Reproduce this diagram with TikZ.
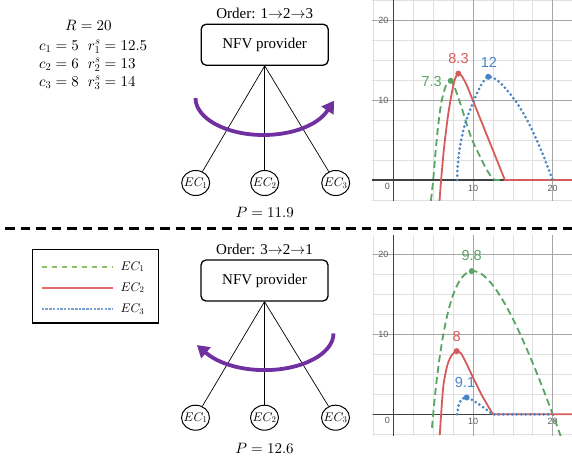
\documentclass[tikz,border=0pt]{standalone}
\usepackage{fontspec}
\setmainfont{Liberation Serif}
\newfontfamily\graphfont{Liberation Sans}
\DeclareFontShape{OML}{cmm}{m}{it}{<->cmmi10}{\skewchar\font'177}
\DeclareFontShape{OMS}{cmsy}{m}{n}{<->cmsy10}{\skewchar\font'60}
\DeclareFontShape{OT1}{cmr}{m}{n}{<->cmr10}{}
\DeclareFontShape{OMX}{cmex}{m}{n}{<->cmex10}{}
\usetikzlibrary{arrows.meta,shapes.geometric}
\definecolor{turnpurple}{RGB}{112,48,160}
\definecolor{curvegreen}{RGB}{88,164,98}
\definecolor{curvered}{RGB}{212,92,92}
\definecolor{curveblue}{RGB}{72,132,200}
\definecolor{keygreen}{RGB}{140,192,100}
\definecolor{keyred}{RGB}{222,110,110}
\definecolor{keyblue}{RGB}{120,160,210}

\begin{document}
\begin{tikzpicture}[x=1pt,y=-1pt,font=\fontsize{15}{18}\selectfont]
	\tikzstyle{provider} = [draw, line width=1.3pt, rounded corners=5pt, minimum width=127pt, minimum height=41pt]
	\tikzstyle{ec} = [draw, ellipse, line width=1pt, minimum width=28pt, minimum height=25pt, inner sep=-4pt, font=\fontsize{12.5}{12.5}\selectfont]
	\tikzstyle{link} = [line width=0.7pt]
	\tikzstyle{turn} = [line width=3.8pt, turnpurple, -{Triangle[length=12pt,width=14pt]}]
	\tikzstyle{minorgrid} = [black!12, line width=0.7pt]
	\tikzstyle{majorgrid} = [black!35, line width=0.9pt]
	\tikzstyle{axis} = [black!75, line width=1.2pt]
	\tikzstyle{tick} = [font=\graphfont\fontsize{9}{9}\selectfont, black!65, inner sep=1pt]
	\tikzstyle{peak} = [font=\graphfont\fontsize{14.5}{14.5}\selectfont, inner sep=0pt]
	\tikzstyle{econe} = [curvegreen, line width=1.8pt, dash pattern=on 7pt off 4pt]
	\tikzstyle{ectwo} = [curvered, line width=1.8pt]
	\tikzstyle{ecthree} = [curveblue, line width=3pt, line cap=round, dash pattern=on 0pt off 4.5pt]
	\tikzstyle{keylabel} = [anchor=west, inner sep=0pt, text=black, font=\fontsize{12.5}{12.5}\selectfont]

	\useasboundingbox (0,0) rectangle (572,463);

	% parameters
	\node (rval) at (88.5,25.7) {$R = 20$};
	\node[anchor=west, inner sep=0pt] (params) at (39,64.5) {\begin{tabular}{@{}l@{\hspace{9pt}}l@{}}
		$c_1 = 5$ & $r_1^s = 12.5$\\
		$c_2 = 6$ & $r_2^s = 13$\\
		$c_3 = 8$ & $r_3^s = 14$
	\end{tabular}};

	% order 1 -> 2 -> 3
	\node[provider] (nfv1) at (264.7,44.7) {NFV provider};
	\node[above of=nfv1, node distance=31pt] (order1) {Order: 1$\rightarrow$2$\rightarrow$3};
	\node[ec, below of=nfv1, node distance=138.3pt] (ec2top) {$EC_2$};
	\node[ec, left of=ec2top, node distance=69pt] (ec1top) {$EC_1$};
	\node[ec, right of=ec2top, node distance=71pt] (ec3top) {$EC_3$};
	\node[below of=ec2top, node distance=29pt] (p1) {$P = 11.9$};
	\draw[link] (nfv1.south) -- (ec1top);
	\draw[link] (nfv1.south) -- (ec2top);
	\draw[link] (nfv1.south) -- (ec3top);
	\draw[turn] (195.5,98) arc[start angle=180, end angle=20, x radius=68, y radius=37] -- ++(6.7,-10);

	\draw[line width=3pt, dash pattern=on 9.5pt off 6pt] (5,228) -- (572,228);

	% legend
	\draw[line width=1.2pt] (32.3,249.3) rectangle (158.3,323);
	\draw[keygreen, line width=2pt, dash pattern=on 5.5pt off 4.5pt] (41.7,266.7) -- (112.7,266.7) node[keylabel, xshift=7pt] (key1) {$EC_1$};
	\draw[keyred, line width=2pt] (41.7,287.7) -- (112.7,287.7) node[keylabel, xshift=7pt] (key2) {$EC_2$};
	\draw[keyblue, line width=1.8pt, dash pattern=on 2.5pt off 1.2pt] (41.7,309) -- (112.7,309) node[keylabel, xshift=7pt] (key3) {$EC_3$};

	% order 3 -> 2 -> 1
	\node[provider] (nfv2) at (264.5,280.5) {NFV provider};
	\node[above of=nfv2, node distance=31.5pt] (order2) {Order: 3$\rightarrow$2$\rightarrow$1};
	\node[ec, below of=nfv2, node distance=137.2pt] (ec2bot) {$EC_2$};
	\node[ec, left of=ec2bot, node distance=69pt] (ec1bot) {$EC_1$};
	\node[ec, right of=ec2bot, node distance=71pt] (ec3bot) {$EC_3$};
	\node[below of=ec2bot, node distance=30.6pt] (p2) {$P = 12.6$};
	\draw[link] (nfv2.south) -- (ec1bot);
	\draw[link] (nfv2.south) -- (ec2bot);
	\draw[link] (nfv2.south) -- (ec3bot);
	\draw[turn] (333.5,333.4) arc[start angle=0, end angle=148, x radius=69, y radius=36.7] -- ++(-9.1,-7.8);

	% profit curves, order 1 -> 2 -> 3
	\begin{scope}[shift={(393.3,180)}, x=7.97pt, y=8pt]
		\clip (-2.67,-2.5) rectangle (22.5,22.6);
		\foreach \g in {-2.5,2.5,5,7.5,12.5,15,17.5,22.5} {
			\draw[minorgrid] (\g,-3) -- (\g,23);
			\draw[minorgrid] (-3,\g) -- (23,\g);
		}
		\foreach \g in {10,20} {
			\draw[majorgrid] (\g,-3) -- (\g,23);
			\draw[majorgrid] (-3,\g) -- (23,\g);
		}
		\draw[axis] (0,-3) -- (0,23);
		\draw[axis] (-3,0) -- (23,0);
		\node[tick] (tx0) at (-0.75,-0.75) {0};
		\node[tick] (tx10) at (10,-1) {10};
		\node[tick] (tx20) at (20,-1) {20};
		\node[tick] (ty10) at (-1.25,10) {10};
		\node[tick] (ty20) at (-1.25,20) {20};
		\draw[econe] plot[smooth] coordinates {(4.72,-2.6) (5,0) (5.3,3.5) (5.65,7) (6.05,9.8) (6.6,11.8) (7.2,12.4) (7.75,11.4) (8.4,9.6) (9.3,6.7) (9.9,5) (10.75,3.2) (11.6,1.5) (12.4,0.25) (12.85,0)} -- (14,0);
		\draw[ectwo] plot[smooth] coordinates {(5.8,-2.6) (6,0) (6.34,3.75) (6.8,7.6) (7.25,10.4) (7.7,12.5) (8.16,13.3) (8.65,12.9) (9.2,11.9)} -- (14,0) -- (23,0);
		\draw[ecthree] plot[smooth] coordinates {(8,0) (8.1,2) (8.35,4.1) (8.78,6.2) (9.3,7.9) (10.3,10.4) (11.1,12) (11.92,12.9) (13,12.5) (14.3,11.2) (15.8,9.2) (17.2,6.7) (18.6,3.6) (20,0)};
		\fill[curvegreen] (7.2,12.4) circle[radius=3pt];
		\fill[curvered] (8.16,13.3) circle[radius=3pt];
		\fill[curveblue] (11.92,12.9) circle[radius=3pt];
		\node[peak, text=curvegreen] (top1) at (4.82,12.3) {7.3};
		\node[peak, text=curvered] (top2) at (8.18,15.2) {8.3};
		\node[peak, text=curveblue] (top3) at (12,14.75) {12};
	\end{scope}

	% profit curves, order 3 -> 2 -> 1
	\begin{scope}[shift={(393.3,414.3)}, x=7.97pt, y=8pt]
		\clip (-2.6,-2.59) rectangle (22.5,22.4);
		\foreach \g in {-2.5,2.5,5,7.5,12.5,15,17.5,22.5} {
			\draw[minorgrid] (\g,-3) -- (\g,23);
			\draw[minorgrid] (-3,\g) -- (23,\g);
		}
		\foreach \g in {10,20} {
			\draw[majorgrid] (\g,-3) -- (\g,23);
			\draw[majorgrid] (-3,\g) -- (23,\g);
		}
		\draw[axis] (0,-3) -- (0,23);
		\draw[axis] (-3,0) -- (23,0);
		\node[tick] (bx0) at (-0.75,-0.71) {0};
		\node[tick] (bx10) at (10,-0.93) {10};
		\node[tick] (bx20) at (20,-0.93) {20};
		\node[tick] (by10) at (-1.25,10) {10};
		\node[tick] (by20) at (-1.25,20) {20};
		\draw[econe] plot[domain=4.85:21.3, samples=90, smooth] (\x,{3.58*(\x-5)*(20-\x)/\x});
		\draw[ectwo] plot[smooth] coordinates {(5.83,-2.6) (6,0) (6.3,3.7) (6.8,6.2) (7.35,7.4) (7.95,7.9) (8.5,7.6) (9.2,6.3) (10,4.6) (11.1,2.4) (12.5,0)} -- (23,0);
		\draw[ecthree] plot[smooth] coordinates {(8,0) (8.25,1.3) (8.65,1.95) (9.15,2.1) (9.7,1.9) (10.6,1.35) (11.6,0.65) (12.5,0)} -- (20,0);
		\fill[curvegreen] (9.84,17.9) circle[radius=3pt];
		\fill[curvered] (7.95,7.9) circle[radius=3pt];
		\fill[curveblue] (9.2,2.1) circle[radius=3pt];
		\node[peak, text=curvegreen] (bot1) at (9.84,19.8) {9.8};
		\node[peak, text=curvered] (bot2) at (7.95,9.7) {8};
		\node[peak, text=curveblue] (bot3) at (9,3.95) {9.1};
	\end{scope}
\end{tikzpicture}
\end{document}
